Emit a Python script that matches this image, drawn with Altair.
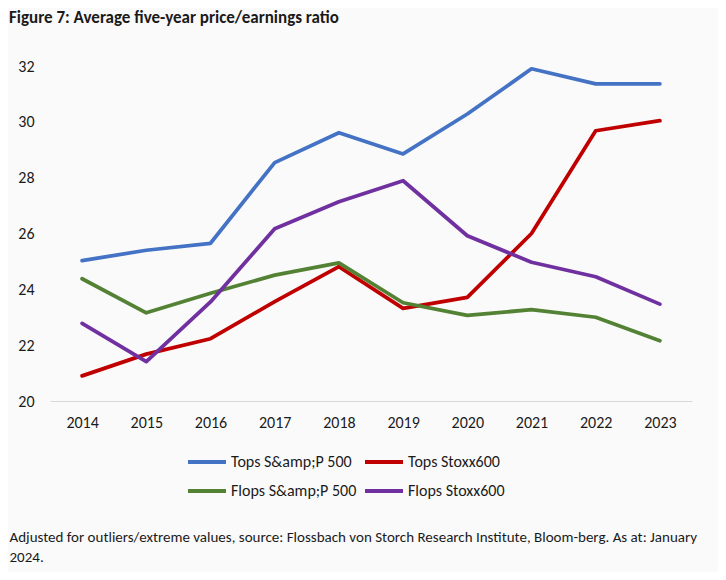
import altair as alt
import pandas as pd

years = [str(y) for y in range(2014, 2024)]
tops_sp500 = [25.03, 25.40, 25.65, 28.54, 29.61, 28.85, 30.28, 31.90, 31.36, 31.36]
tops_stoxx600 = [20.90, 21.68, 22.23, 23.56, 24.81, 23.32, 23.71, 26.00, 29.68, 30.04]
flops_sp500 = [24.38, 23.16, 23.86, 24.51, 24.95, 23.52, 23.07, 23.27, 23.00, 22.16]
flops_stoxx600 = [22.78, 21.41, 23.55, 26.17, 27.14, 27.89, 25.92, 24.97, 24.45, 23.47]

series_names = ["Tops S&amp;P 500", "Tops Stoxx600", "Flops S&amp;P 500", "Flops Stoxx600"]
series_values = [tops_sp500, tops_stoxx600, flops_sp500, flops_stoxx600]
colors = ["#4472C4", "#C00000", "#548235", "#7030A0"]
y_ticks = [20, 22, 24, 26, 28, 30, 32]

title_text = "Figure 7: Average five-year price/earnings ratio"
footnote = ["Adjusted for outliers/extreme values, source: Flossbach von Storch Research Institute, Bloom-berg. As at: January",
            "2024."]

rows = []
for name, vals in zip(series_names, series_values):
    for yr, v in zip(years, vals):
        rows.append({"year": yr, "value": v, "series": name})
df = pd.DataFrame(rows)

FONT = "Carlito, Lato, sans-serif"

chart = alt.Chart(df).mark_line(strokeWidth=3.75, strokeCap="round", strokeJoin="round").encode(
    x=alt.X("year:O", scale=alt.Scale(type="point", padding=0.5),
            axis=alt.Axis(title=footnote, labelAngle=0, ticks=False, domainColor="#d9d9d9",
                          domainWidth=1, labelPadding=13, labelFontSize=16, labelFont=FONT,
                          labelColor="#1a1a1a", titleFont=FONT, titleFontSize=15,
                          titleFontWeight="normal", titleColor="#1a1a1a", titleAlign="left",
                          titleAnchor="start", titleX=-41, titleY=128, titleBaseline="top",
                          titleLineHeight=20)),
    y=alt.Y("value:Q", scale=alt.Scale(domain=[20, 32], nice=False, zero=False),
            axis=alt.Axis(title=None, values=y_ticks, ticks=False, domain=False, grid=False,
                          labelPadding=16, labelFontSize=16, labelFont=FONT, labelColor="#1a1a1a")),
    color=alt.Color("series:N", sort=series_names,
                    scale=alt.Scale(domain=series_names, range=colors),
                    legend=alt.Legend(title=None, orient="none", legendX=136, legendY=375,
                                      columns=2, direction="horizontal",
                                      symbolType="stroke", symbolSize=1444,
                                      symbolStrokeWidth=4, labelFontSize=16, labelFont=FONT,
                                      labelColor="#1a1a1a", columnPadding=0, rowPadding=0,
                                      labelOffset=3)),
).properties(
    width=642, height=335,
    background="#fafafa",
    padding={"left": 42, "top": 58, "right": 26, "bottom": 171},
    autosize=alt.AutoSizeParams(type="none"),
    title=alt.TitleParams(title_text, anchor="start", frame="group", dx=-41, offset=31, font=FONT,
                          fontSize=17, fontWeight="bold", color="#1a1a1a"),
).configure_view(stroke=None)

chart.save("out.html", embed_options={"renderer": "svg", "actions": False})
